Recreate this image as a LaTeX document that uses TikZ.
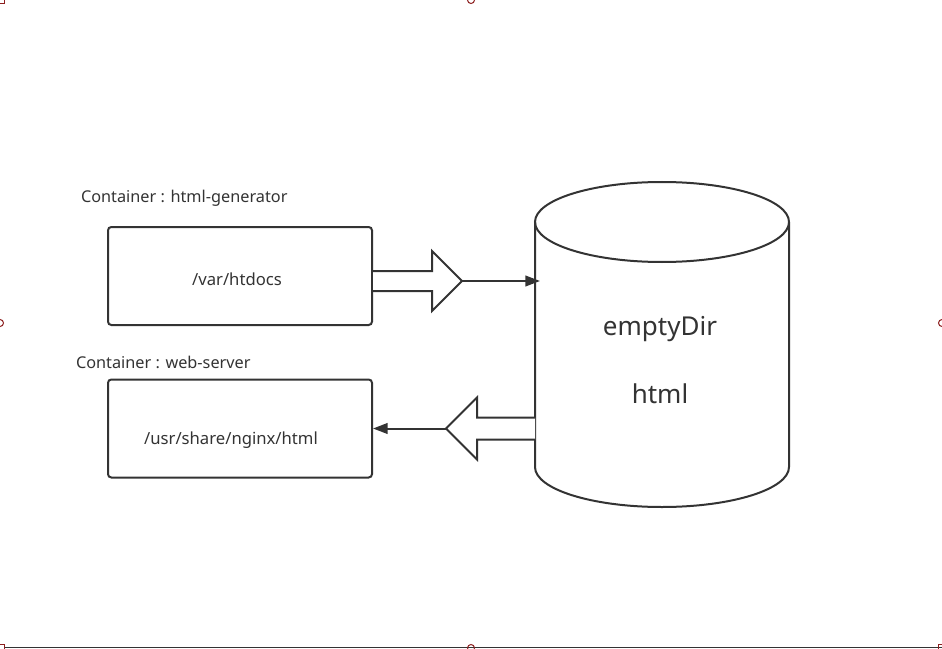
\documentclass[tikz,border=0pt]{standalone}
\usepackage{fontspec}
\setmainfont{Noto Sans}
\usetikzlibrary{arrows.meta}

\definecolor{inkgray}{RGB}{51,51,51}
\definecolor{handlered}{RGB}{140,30,30}

\tikzset{every picture/.style={line width=1.5pt}}
\tikzset{
  podbox/.style={draw=inkgray, rounded corners=2.5pt, minimum width=198pt, minimum height=73.5pt, inner sep=0pt},
  bigarrow/.style={draw=inkgray, fill=white, line join=miter},
  mountline/.style={draw=inkgray, -{Triangle[length=11pt,width=8pt]}},
  caption/.style={anchor=west, inner sep=0.75pt, text=inkgray, font=\fontsize{12.2}{14}\selectfont},
  pathtext/.style={inner sep=0.75pt, text=inkgray, font=\fontsize{12.5}{15}\selectfont},
  voltext/.style={inner sep=0.75pt, text=inkgray, font=\fontsize{19.5}{23}\selectfont},
  handle/.style={draw=handlered, line width=0.75pt}
}

\begin{document}
\begin{tikzpicture}[x=0.75pt,y=0.75pt,yscale=-1,xscale=1]
\useasboundingbox (0,0) rectangle (942,649);

% Frame of the page
\draw [inkgray, line width=1.2pt] (4,647.5) -- (942,647.5) ;
\draw [handle] (0,4) -- (4,4) -- (4,0) ;
\draw [handle] (0,644) -- (4,644) -- (4,649) ;
\draw [handle] (938,649) -- (938,644) -- (942,644) ;
\draw [handle] (471,0) circle [radius=3.5] ;
\draw [handle] (471,648) circle [radius=3.5] ;
\draw [handle] (0,323) circle [radius=3.5] ;
\draw [handle] (942,323) circle [radius=3.5] ;

%Shape: Rectangle
\node (gen) [podbox] at (240,276) {};
%Shape: Rectangle
\node (web) [podbox] at (240,428.5) {};

% Text Node
\node (genlabel) [caption] at (79,198.5) {Container : html-generator};
% Text Node
\node (weblabel) [caption] at (74,362) {Container : web-server};
% Text Node
\node (gendir) [pathtext] at (237,279) {/var/htdocs};
% Text Node
\node (webdir) [pathtext] at (231,440.5) {/usr/share/nginx/html};

%Shape: Can
\draw [inkgray] (535,222) -- (535,467) arc [start angle=180, end angle=0, x radius=127, y radius=40] -- (789,222) ;
\draw [inkgray] (662,222) ellipse [x radius=127, y radius=40] ;
\coordinate (volin) at (540,281) ;
\coordinate (volout) at (535,428.5) ;

% Text Node
\node (volname) [voltext] at (660,329) {emptyDir};
% Text Node
\node (voldir) [voltext] at (660,394) {html};

%Shape: Right Arrow
\draw [bigarrow] (gen.east |- 0,271) -- (432,271) -- (432,251) -- (462,281) -- (432,311) -- (432,291) -- (gen.east |- 0,291) ;
\coordinate (outtip) at (462,281) ;
%Straight Lines
\draw [mountline] (outtip) -- (volin) ;

%Shape: Left Arrow
\draw [bigarrow] (volout |- 0,417.5) -- (477,417.5) -- (477,397.5) -- (446,428.5) -- (477,459.5) -- (477,439.5) -- (volout |- 0,439.5) ;
\coordinate (intip) at (446,428.5) ;
%Straight Lines
\draw [mountline] (intip) -- (web.east) ;

\end{tikzpicture}
\end{document}
